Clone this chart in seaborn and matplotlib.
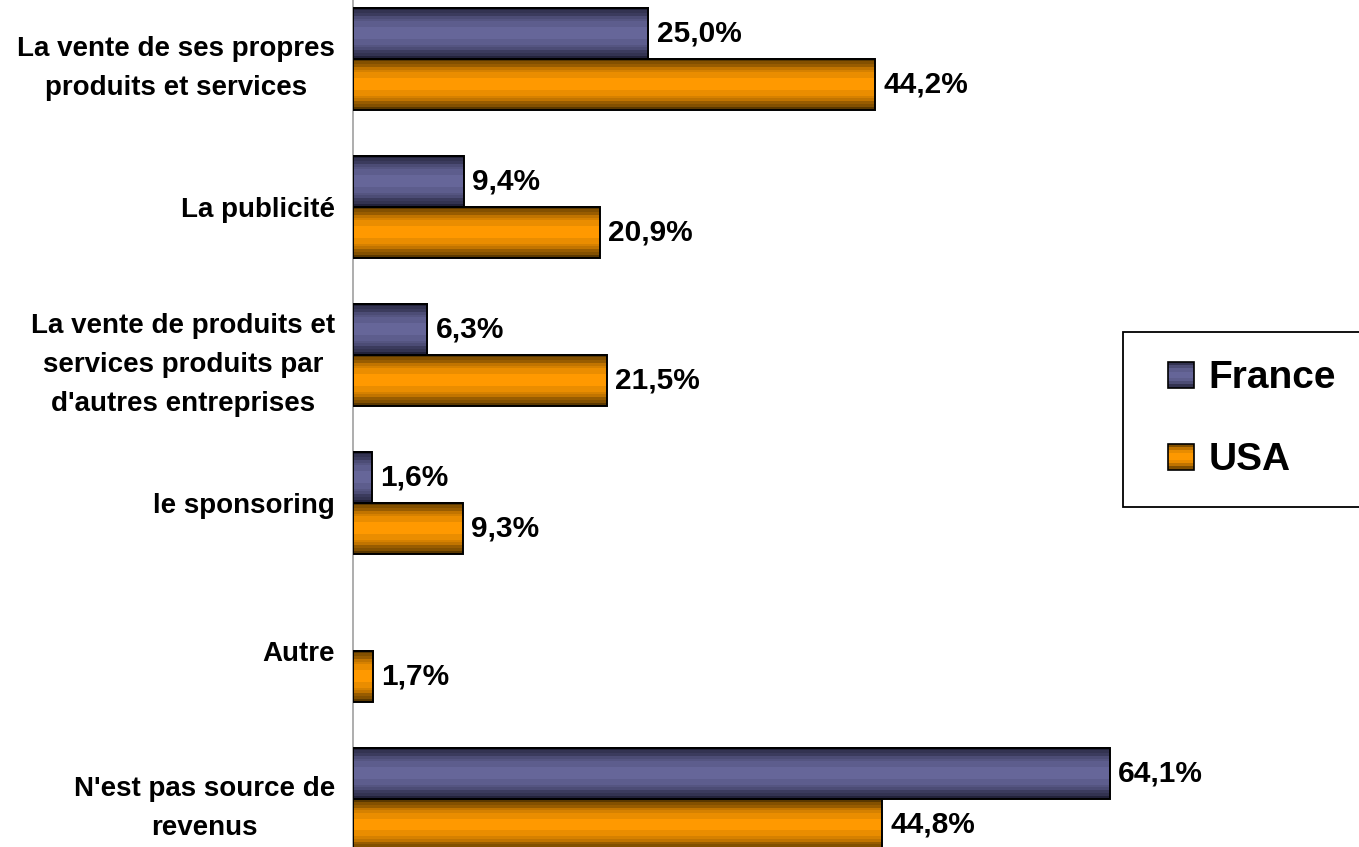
import numpy as np
import pandas as pd
import matplotlib
matplotlib.use('Agg')
import matplotlib.pyplot as plt
from matplotlib.colors import LinearSegmentedColormap
from matplotlib.legend_handler import HandlerBase
from matplotlib.patches import Rectangle, Patch
import seaborn as sns

categories = ["La vente de ses propres\nproduits et services",
              "La publicité",
              "La vente de produits et\nservices produits par\nd'autres entreprises",
              "le sponsoring",
              "Autre",
              "N'est pas source de\nrevenus"]
france = [25.0, 9.4, 6.3, 1.6, 0.0, 64.1]
usa = [44.2, 20.9, 21.5, 9.3, 1.7, 44.8]
series = ["France", "USA"]

df = pd.DataFrame({
    'cat': categories * 2,
    'pays': ["France"] * len(categories) + ["USA"] * len(categories),
    'val': france + usa,
})

sns.set_style('white')
plt.rcParams['font.family'] = ['Liberation Sans', 'DejaVu Sans']
plt.rcParams['font.weight'] = 'bold'
plt.rcParams['text.color'] = 'black'
plt.rcParams['ytick.color'] = 'black'
plt.rcParams['xtick.color'] = 'black'

# bande sombre -> claire -> sombre, en paliers comme l'original
def band_cmap(dark, light):
    return LinearSegmentedColormap.from_list('b', [dark, light], N=256)

cmaps = {"France": band_cmap('#22223a', '#666699'),
         "USA": band_cmap('#5a3800', '#ff9900')}
t = np.linspace(0, 1, 18)
profile = 1 - np.abs(2 * t - 1) ** 2.0
profile = np.round(profile * 8) / 8

fig = plt.figure(figsize=(13.59, 8.47), dpi=100)
ax = fig.add_axes([353 / 1359, 0, 1 - 353 / 1359, 1])

sns.barplot(data=df, y='cat', x='val', hue='pays', orient='h', width=0.69,
            palette={"France": '#666699', "USA": '#ff9900'}, ax=ax,
            legend=False, edgecolor='black', linewidth=1.4, saturation=1)

for cont, name in zip(ax.containers, series):
    for bar in cont:
        x, y = bar.get_x(), bar.get_y()
        w, h = bar.get_width(), bar.get_height()
        if w <= 0:
            bar.set_visible(False)
            continue
        ax.imshow(profile[:, None], extent=(x, x + w, y + h, y), aspect='auto',
                  cmap=cmaps[name], vmin=0, vmax=1, interpolation='nearest', zorder=2)
        bar.set_facecolor('none')
        bar.set_zorder(3)
    vals = france if name == "France" else usa
    labels = [f"{v:.1f}%".replace('.', ',') if v > 0 else '' for v in vals]
    ax.bar_label(cont, labels=labels, padding=6, fontsize=21.5,
                 fontweight='bold', color='black')

ax.set_xlim(0, 85.2)
ax.set_ylim(5.324, -0.399)
ax.set_xlabel('')
ax.set_ylabel('')
ax.set_xticks([])
ax.tick_params(axis='y', length=0, pad=13, labelsize=20, labelcolor='black')
for lab in ax.get_yticklabels():
    lab.set_multialignment('center')
    lab.set_linespacing(1.65)
    lab.set_fontweight('bold')

for s in ['top', 'right', 'bottom']:
    ax.spines[s].set_visible(False)
ax.spines['left'].set_color('#a0a0a0')
ax.spines['left'].set_linewidth(1.2)


class GradHandler(HandlerBase):
    def __init__(self, cmap):
        super().__init__()
        self.cmap = cmap

    def create_artists(self, legend, orig_handle, xdescent, ydescent,
                       width, height, fontsize, trans):
        s = height * 0.95
        x0 = width - s - xdescent
        y0 = -ydescent + (height - s) / 2
        n = 8
        arts = []
        for k in range(n):
            tt = (k + 0.5) / n
            c = self.cmap(1 - abs(2 * tt - 1) ** 2.0)
            arts.append(Rectangle((x0, y0 + k * s / n), s, s / n, facecolor=c,
                                  edgecolor='none', transform=trans))
        arts.append(Rectangle((x0, y0), s, s, facecolor='none', edgecolor='black',
                              lw=1.2, transform=trans))
        return arts


handles = [Patch(label=n) for n in series]
leg = fig.legend(handles=handles, labels=series, loc='upper left',
                 bbox_to_anchor=(1123 / 1359, 1 - 332 / 847), borderaxespad=0,
                 handler_map={handles[0]: GradHandler(cmaps["France"]),
                              handles[1]: GradHandler(cmaps["USA"])},
                 prop={'size': 28, 'weight': 'bold'}, labelspacing=1.18,
                 borderpad=0.73, handlelength=1.1, handleheight=0.7,
                 handletextpad=0.36, fancybox=False, frameon=True,
                 framealpha=1, labelcolor='black')
leg.get_frame().set_edgecolor('black')
leg.get_frame().set_linewidth(1.3)

fig.savefig('out.png', dpi=100)
